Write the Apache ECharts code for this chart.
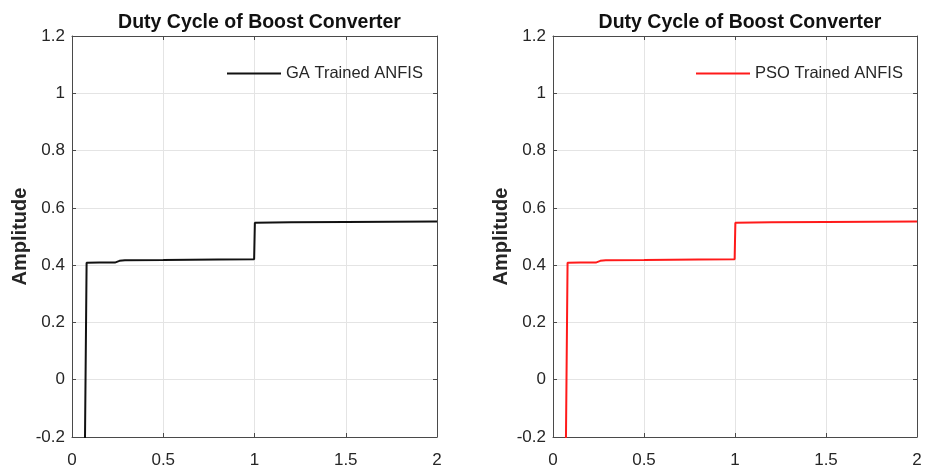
<!DOCTYPE html>
<html>
<head>
<meta charset="utf-8">
<script src="https://cdn.jsdelivr.net/npm/echarts@6/dist/echarts.min.js"></script>
<style>
  html, body { margin: 0; padding: 0; background: #fff; }
  #chart { width: 925px; height: 475px; }
</style>
</head>
<body>
<div id="chart"></div>
<script>
// Time axis (s) and duty-cycle samples for each controller
const gaTime  = [0.0705, 0.080, 0.090, 0.150, 0.235, 0.260, 0.290, 0.500, 0.800, 0.998, 1.002, 1.010, 1.200, 1.500, 2.000];
const gaDuty  = [-0.25, 0.408, 0.410, 0.409, 0.409, 0.415, 0.417, 0.418, 0.420, 0.421, 0.548, 0.549, 0.550, 0.551, 0.552];
const psoTime = [0.0705, 0.080, 0.090, 0.150, 0.235, 0.260, 0.290, 0.500, 0.800, 0.998, 1.002, 1.010, 1.200, 1.500, 2.000];
const psoDuty = [-0.25, 0.408, 0.410, 0.409, 0.409, 0.415, 0.417, 0.418, 0.420, 0.421, 0.548, 0.549, 0.550, 0.551, 0.552];

const xTicks = [0, 0.5, 1, 1.5, 2];
const yTicks = [-0.2, 0, 0.2, 0.4, 0.6, 0.8, 1, 1.2];

const titleText = 'Duty Cycle of Boost Converter';
const yName = 'Amplitude';
const seriesNames = ['GA Trained ANFIS', 'PSO Trained ANFIS'];
const seriesColors = ['#111111', '#ff1a1a'];

const FONT = '"Liberation Sans", Arial, sans-serif';
const AXIS_COLOR = '#4a4a4a';
const GRID_COLOR = '#e4e4e4';
const TEXT_COLOR = '#262626';

const pair = (xs, ys) => xs.map((x, i) => [x, ys[i]]);
const fmt = v => String(Math.round(v * 10) / 10);

const grids = [
  { left: 72, top: 36, width: 365, height: 401 },
  { left: 553, top: 36, width: 364, height: 401 }
];

const tickStyle = { show: true, inside: true, length: 4, lineStyle: { color: AXIS_COLOR } };
const lineStyle = { show: true, onZero: false, lineStyle: { color: AXIS_COLOR, width: 1 } };

const xAxes = [], yAxes = [];
grids.forEach((g, gi) => {
  xAxes.push({
    gridIndex: gi, type: 'value', position: 'bottom',
    min: xTicks[0], max: xTicks[xTicks.length - 1], interval: 0.5,
    axisLine: lineStyle, axisTick: tickStyle,
    axisLabel: { show: true, margin: 15, fontFamily: FONT, fontSize: 17, color: TEXT_COLOR, formatter: fmt },
    splitLine: { show: true, lineStyle: { color: GRID_COLOR, width: 1 } }
  });
  xAxes.push({
    gridIndex: gi, type: 'value', position: 'top',
    min: xTicks[0], max: xTicks[xTicks.length - 1], interval: 0.5,
    axisLine: lineStyle, axisTick: tickStyle,
    axisLabel: { show: false }, splitLine: { show: false }
  });
  yAxes.push({
    gridIndex: gi, type: 'value', position: 'left',
    min: yTicks[0], max: yTicks[yTicks.length - 1], interval: 0.2,
    name: yName, nameLocation: 'middle', nameGap: 42, nameRotate: 90,
    nameTextStyle: { fontFamily: FONT, fontWeight: 'bold', fontSize: 20, color: TEXT_COLOR },
    axisLine: lineStyle, axisTick: tickStyle,
    axisLabel: { show: true, margin: 7, fontFamily: FONT, fontSize: 17, color: TEXT_COLOR, formatter: fmt },
    splitLine: { show: true, lineStyle: { color: GRID_COLOR, width: 1 } }
  });
  yAxes.push({
    gridIndex: gi, type: 'value', position: 'right',
    min: yTicks[0], max: yTicks[yTicks.length - 1], interval: 0.2,
    axisLine: lineStyle, axisTick: tickStyle,
    axisLabel: { show: false }, splitLine: { show: false }
  });
});

const legendBase = {
  icon: 'rect', itemWidth: 54, itemHeight: 2, itemGap: 5, top: 60,
  textStyle: { fontFamily: FONT, fontSize: 16.5, color: TEXT_COLOR }
};

const option = {
  backgroundColor: '#ffffff',
  animation: false,
  title: grids.map(g => ({
    text: titleText,
    left: g.left + g.width / 2, top: 8, textAlign: 'center',
    textStyle: { fontFamily: FONT, fontWeight: 'bold', fontSize: 19.5, color: '#111' }
  })),
  legend: [
    Object.assign({}, legendBase, { data: [seriesNames[0]], left: 222 }),
    Object.assign({}, legendBase, { data: [seriesNames[1]], left: 691 })
  ],
  grid: grids.map(g => Object.assign({ containLabel: false }, g)),
  xAxis: xAxes,
  yAxis: yAxes,
  series: [
    {
      name: seriesNames[0], type: 'line', xAxisIndex: 0, yAxisIndex: 0,
      data: pair(gaTime, gaDuty), showSymbol: false, symbol: 'none', clip: true,
      lineStyle: { color: seriesColors[0], width: 2 }, itemStyle: { color: seriesColors[0] }
    },
    {
      name: seriesNames[1], type: 'line', xAxisIndex: 2, yAxisIndex: 2,
      data: pair(psoTime, psoDuty), showSymbol: false, symbol: 'none', clip: true,
      lineStyle: { color: seriesColors[1], width: 2 }, itemStyle: { color: seriesColors[1] }
    }
  ]
};

const chart = echarts.init(document.getElementById('chart'), null, { renderer: 'canvas' });
chart.setOption(option);
</script>
</body>
</html>
